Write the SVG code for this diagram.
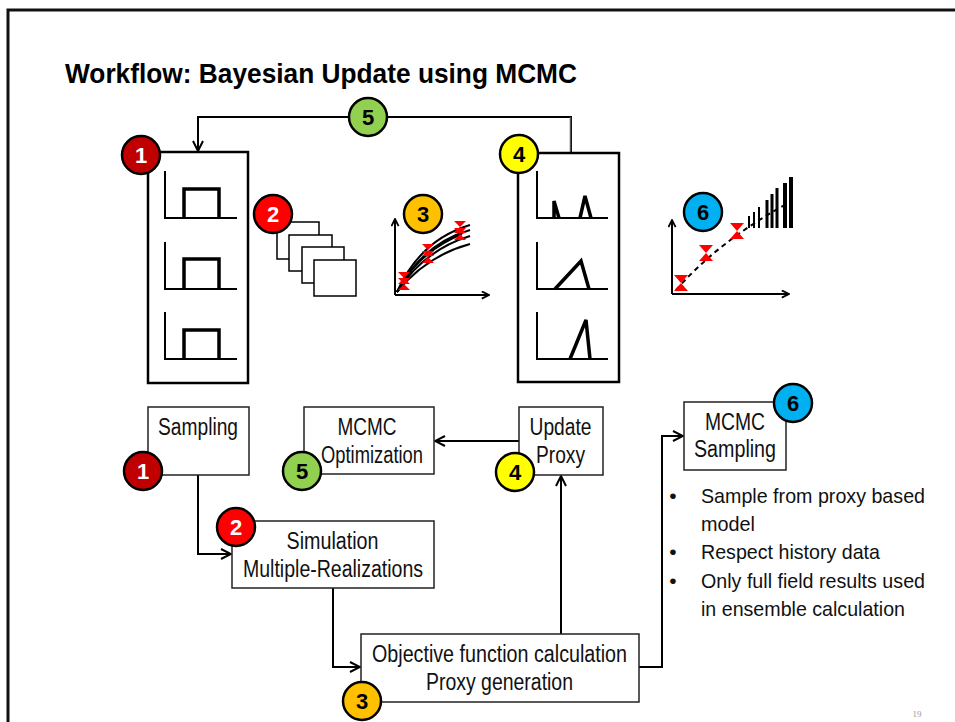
<svg xmlns="http://www.w3.org/2000/svg" width="955" height="722" viewBox="0 0 955 722">
<defs>
<style>
.t{font-family:"Liberation Sans Narrow","Liberation Sans",Arial,sans-serif;font-size:23px;fill:#111;}
.b{font-family:"Liberation Sans Narrow","Liberation Sans",Arial,sans-serif;font-size:21px;fill:#111;}
.c{text-anchor:middle;}
.box{fill:#fff;stroke:#222;stroke-width:1.5;}
.bigbox{fill:#fff;stroke:#000;stroke-width:2.5;}
.ax{fill:none;stroke:#000;stroke-width:2;}
.thick{fill:none;stroke:#000;stroke-width:3.5;stroke-linejoin:miter;}
.conn{fill:none;stroke:#000;stroke-width:2;}
.num{font-family:"Liberation Sans Narrow","Liberation Sans",Arial,sans-serif;font-weight:bold;font-size:22px;text-anchor:middle;}
.circ{stroke:#000;stroke-width:2.5;}
.page{fill:#fff;stroke:#000;stroke-width:1.5;}
</style>
<marker id="arr" viewBox="0 0 12 12" refX="11" refY="6" markerWidth="12" markerHeight="12" orient="auto" markerUnits="userSpaceOnUse">
<path d="M1,1 L11,6 L1,11" fill="none" stroke="#000" stroke-width="2"/>
</marker>
<marker id="arrs" viewBox="0 0 10 10" refX="9" refY="5" markerWidth="9" markerHeight="9" orient="auto" markerUnits="userSpaceOnUse">
<path d="M1,1 L9,5 L1,9" fill="none" stroke="#000" stroke-width="2"/>
</marker>
<g id="hg"><path d="M-7,-8 L7,-8 L0,0 Z M-7,8 L7,8 L0,0 Z" fill="#FF0000"/></g>
<g id="hgs"><path d="M-6,-6 L6,-6 L0,0 Z M-6,6 L6,6 L0,0 Z" fill="#FF0000"/></g>
</defs>
<rect x="0" y="0" width="955" height="722" fill="#fff"/>
<path d="M8,722 L8,10 L955,10" fill="none" stroke="#111" stroke-width="3"/>
<text x="65" y="83" font-family="'Liberation Sans Narrow','Liberation Sans',Arial,sans-serif" font-weight="bold" font-size="28" textLength="512" lengthAdjust="spacingAndGlyphs" fill="#000">Workflow: Bayesian Update using MCMC</text>

<g id="connectors">
<path class="conn" d="M571,153 L571,117 L198,117 L198,151" marker-end="url(#arr)"/>
<path d="M570.5,153 L570.5,117" stroke="#555" stroke-width="1.5"/>
<path class="conn" d="M198,475 L198,554 L231,554" marker-end="url(#arr)"/>
<path class="conn" d="M333,588 L333,667 L360,667" marker-end="url(#arr)"/>
<path class="conn" d="M561,634 L561,476" marker-end="url(#arr)"/>
<path class="conn" d="M519,441 L435,441" marker-end="url(#arr)"/>
<path class="conn" d="M639,667 L662,667 L662,436 L683,436" marker-end="url(#arr)"/>
</g>

<g id="prior-box">
<rect class="bigbox" x="148" y="152" width="100" height="231"/>
<path class="ax" d="M165,171 L165,218 L237,218"/>
<path class="thick" d="M184,218 L184,189 L219,189 L219,218"/>
<path class="ax" d="M165,242 L165,289 L237,289"/>
<path class="thick" d="M184,289 L184,259 L219,259 L219,289"/>
<path class="ax" d="M165,312 L165,359 L237,359"/>
<path class="thick" d="M184,359 L184,330 L219,330 L219,359"/>
</g>

<g id="realizations">
<rect class="page" x="277" y="222" width="42" height="37"/>
<rect class="page" x="289" y="235" width="43" height="36"/>
<rect class="page" x="302" y="247" width="42" height="36"/>
<rect class="page" x="314" y="260" width="42" height="36"/>
</g>

<g id="misfit-plot">
<path class="ax" d="M395,295 L395,219" marker-end="url(#arrs)"/>
<path class="ax" d="M395,295 L489,295" marker-end="url(#arrs)"/>
<g fill="none" stroke="#000" stroke-width="2">
<path d="M397,292 Q420,240 470,225"/>
<path d="M397,292 Q422,244 470,230"/>
<path d="M397,292 Q424,250 470,236"/>
<path d="M397,292 Q426,256 470,244"/>
<path d="M397,292 Q418,252 462,234"/>
</g>
<use href="#hgs" x="404" y="278"/>
<use href="#hgs" x="404" y="284"/>
<use href="#hgs" x="428" y="250"/>
<use href="#hgs" x="428" y="257"/>
<use href="#hgs" x="460" y="227"/>
<use href="#hgs" x="460" y="234"/>
</g>

<g id="posterior-box">
<rect class="bigbox" x="518" y="153" width="101" height="229"/>
<path class="ax" d="M537,171 L537,218 L608,218"/>
<path class="thick" d="M554,218 L554,201 L559,218 M580,218 L585,196 L591,218"/>
<path class="ax" d="M537,242 L537,289 L608,289"/>
<path class="thick" d="M555,289 L581,261 L589,289"/>
<path class="ax" d="M537,312 L537,359 L608,359"/>
<path class="thick" d="M570,359 L586,320 L590,359"/>
</g>

<g id="forecast-plot">
<path class="ax" d="M672,294 L672,220" marker-end="url(#arrs)"/>
<path class="ax" d="M672,294 L789,294" marker-end="url(#arrs)"/>
<path d="M676,290 Q720,240 790,202" fill="none" stroke="#000" stroke-width="2" stroke-dasharray="5,4"/>
<g fill="#000">
<rect x="748" y="216" width="2" height="12"/>
<rect x="753" y="212" width="2" height="16"/>
<rect x="758" y="207" width="2" height="21"/>
<rect x="765.5" y="200" width="3" height="28"/>
<rect x="770.5" y="194" width="3" height="34"/>
<rect x="775.5" y="188" width="3" height="40"/>
<rect x="783" y="183" width="4" height="45"/>
<rect x="789" y="177" width="4" height="51"/>
</g>
<use href="#hg" x="681" y="283"/>
<use href="#hg" x="706" y="253"/>
<use href="#hg" x="737" y="231"/>
</g>

<g id="sampling">
<rect class="box" x="148" y="407" width="101" height="68"/>
<text class="t c" x="198" y="435" textLength="80" lengthAdjust="spacingAndGlyphs">Sampling</text>
</g>
<g id="mcmc-optimization">
<rect class="box" x="304" y="407" width="130" height="67"/>
<text class="t c" x="367" y="435" textLength="59" lengthAdjust="spacingAndGlyphs">MCMC</text>
<text class="t c" x="372" y="463" textLength="102" lengthAdjust="spacingAndGlyphs">Optimization</text>
</g>
<g id="update-proxy">
<rect class="box" x="519" y="407" width="84" height="68"/>
<text class="t c" x="560.5" y="435" textLength="62" lengthAdjust="spacingAndGlyphs">Update</text>
<text class="t c" x="560.5" y="463" textLength="49" lengthAdjust="spacingAndGlyphs">Proxy</text>
</g>
<g id="simulation">
<rect class="box" x="232" y="521" width="202" height="67"/>
<text class="t c" x="332.5" y="549" textLength="92" lengthAdjust="spacingAndGlyphs">Simulation</text>
<text class="t c" x="333" y="577" textLength="180" lengthAdjust="spacingAndGlyphs">Multiple-Realizations</text>
</g>
<g id="objective">
<rect class="box" x="361" y="634" width="278" height="68"/>
<text class="t c" x="499.5" y="662" textLength="255" lengthAdjust="spacingAndGlyphs">Objective function calculation</text>
<text class="t c" x="499.5" y="690" textLength="147" lengthAdjust="spacingAndGlyphs">Proxy generation</text>
</g>
<g id="mcmc-sampling">
<rect class="box" x="684" y="402" width="102" height="68"/>
<text class="t c" x="735" y="430" textLength="60" lengthAdjust="spacingAndGlyphs">MCMC</text>
<text class="t c" x="735" y="457" textLength="82" lengthAdjust="spacingAndGlyphs">Sampling</text>
</g>
<g id="bullets">
<text class="b c" x="673" y="503">•</text>
<text class="b" x="701" y="503" textLength="224" lengthAdjust="spacingAndGlyphs">Sample from proxy based</text>
<text class="b" x="701" y="531" textLength="54" lengthAdjust="spacingAndGlyphs">model</text>
<text class="b c" x="673" y="559">•</text>
<text class="b" x="701" y="559" textLength="179" lengthAdjust="spacingAndGlyphs">Respect history data</text>
<text class="b c" x="673" y="588">•</text>
<text class="b" x="701" y="588" textLength="224" lengthAdjust="spacingAndGlyphs">Only full field results used</text>
<text class="b" x="701" y="616" textLength="204" lengthAdjust="spacingAndGlyphs">in ensemble calculation</text>
</g>

<g id="badges">
<g id="b1-top"><circle class="circ" cx="141" cy="155" r="19" fill="#C00000"/><text class="num" x="141" y="163" fill="#fff">1</text></g>
<g id="b2-top"><circle class="circ" cx="273" cy="214" r="19" fill="#FF0000"/><text class="num" x="273" y="222" fill="#fff">2</text></g>
<g id="b3-top"><circle class="circ" cx="423" cy="214" r="19" fill="#FFC000"/><text class="num" x="423" y="222" fill="#000">3</text></g>
<g id="b4-top"><circle class="circ" cx="519" cy="154" r="19" fill="#FFFF00"/><text class="num" x="519" y="162" fill="#000">4</text></g>
<g id="b5-top"><circle class="circ" cx="368" cy="117" r="19" fill="#92D050"/><text class="num" x="368" y="125" fill="#000">5</text></g>
<g id="b6-top"><circle class="circ" cx="703" cy="212" r="19" fill="#00B0F0"/><text class="num" x="703" y="220" fill="#000">6</text></g>
<g id="b1"><circle class="circ" cx="143" cy="471" r="19" fill="#C00000"/><text class="num" x="143" y="479" fill="#fff">1</text></g>
<g id="b2"><circle class="circ" cx="236" cy="527" r="19" fill="#FF0000"/><text class="num" x="236" y="535" fill="#fff">2</text></g>
<g id="b3"><circle class="circ" cx="362" cy="701" r="19" fill="#FFC000"/><text class="num" x="362" y="709" fill="#000">3</text></g>
<g id="b4"><circle class="circ" cx="515" cy="472" r="19" fill="#FFFF00"/><text class="num" x="515" y="480" fill="#000">4</text></g>
<g id="b5"><circle class="circ" cx="302" cy="471" r="19" fill="#92D050"/><text class="num" x="302" y="479" fill="#000">5</text></g>
<g id="b6"><circle class="circ" cx="793" cy="403" r="19" fill="#00B0F0"/><text class="num" x="793" y="411" fill="#000">6</text></g>
</g>
<text x="917" y="717" font-family="'Liberation Serif',serif" font-size="9" fill="#999" text-anchor="middle">19</text>
</svg>
